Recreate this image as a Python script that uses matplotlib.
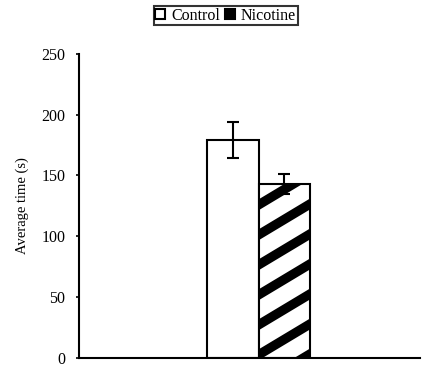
import numpy as np
import matplotlib
matplotlib.use("Agg")
import matplotlib.pyplot as plt
from matplotlib import hatch as mhatch
from matplotlib.path import Path
from matplotlib.patches import Patch

groups = ['Control', 'Nicotine']
means = [179, 143]
errs = [15, 8]
fills = ['white', 'white']
hatches = ['', '/']


# shallower, wider-spaced stripes than the stock '/' hatch (slope 0.6, 5 per tile)
class SlantHatch(mhatch.HatchPatternBase):
    def __init__(self, hatch, density):
        self.num_lines = 12 if '/' in hatch else 0
        self.num_vertices = self.num_lines * 2

    def set_vertices_and_codes(self, vertices, codes):
        c = np.arange(self.num_lines) * 0.2 - 1.0
        vertices[0::2, 0] = -0.5
        vertices[0::2, 1] = c - 0.3
        vertices[1::2, 0] = 1.5
        vertices[1::2, 1] = c + 0.9
        codes[0::2] = Path.MOVETO
        codes[1::2] = Path.LINETO


mhatch._hatch_types = [h for h in mhatch._hatch_types if h is not mhatch.NorthEastHatch]
mhatch._hatch_types.append(SlantHatch)

plt.rcParams['font.family'] = ['Liberation Serif', 'DejaVu Serif']
plt.rcParams['hatch.linewidth'] = 4.5

fig = plt.figure(figsize=(429 / 150, 369 / 150), dpi=150)
ax = fig.add_axes([0.184, 0.03, 0.795, 0.824])

pos = [0.903, 1.205]
for p, m, e, f, h in zip(pos, means, errs, fills, hatches):
    ax.bar(p, m, width=0.302, color=f, edgecolor='black', linewidth=1.0, hatch=h)
    ax.errorbar(p, m, yerr=e, color='black', capsize=2.7, elinewidth=1.0, capthick=1.0)

ax.set_xlim(0, 2)
ax.set_ylim(0, 250)
ax.set_yticks([0, 50, 100, 150, 200, 250])
ax.set_xticks([])
ax.spines['top'].set_visible(False)
ax.spines['right'].set_visible(False)
ax.spines['left'].set_linewidth(1.0)
ax.spines['bottom'].set_linewidth(1.0)
ax.tick_params(axis='y', direction='out', length=1.5, width=0.8, labelsize=7.7, pad=5)
ax.set_ylabel('Average time (s)', fontsize=7, labelpad=6)

handles = [Patch(facecolor='white', edgecolor='black', linewidth=1.0, label='Control'),
           Patch(facecolor='black', edgecolor='black', linewidth=1.0, label='Nicotine')]
leg = fig.legend(handles=handles, loc='upper center', bbox_to_anchor=(0.526, 0.992), ncol=2,
                 fontsize=7.7, frameon=True, fancybox=False, handlelength=0.6, handleheight=0.6,
                 handletextpad=0.4, columnspacing=0.3, borderpad=0.1, borderaxespad=0.2)
leg.get_frame().set_edgecolor('black')
leg.get_frame().set_linewidth(1.0)

fig.savefig('out.png', dpi=150)
